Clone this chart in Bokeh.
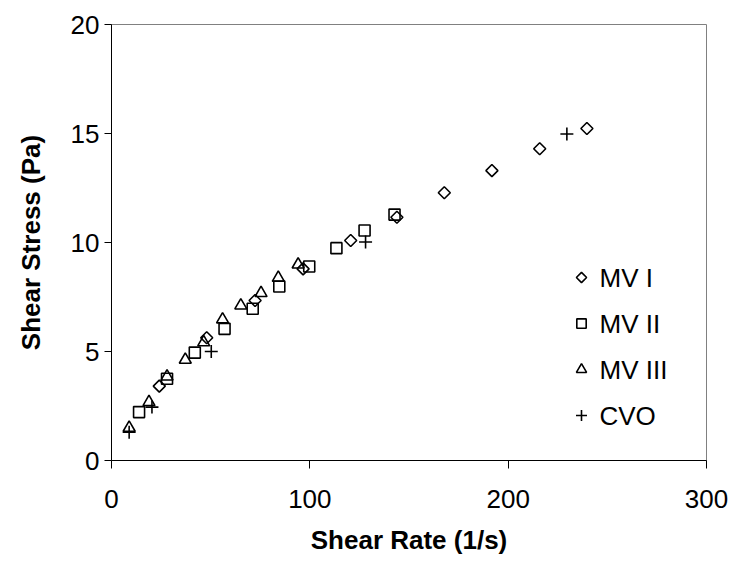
from bokeh.plotting import figure
from bokeh.models import Range1d, FixedTicker
from bokeh.core.properties import value
from bokeh.embed import file_html
from bokeh.resources import INLINE
import math

# Shear rate (1/s) and shear stress (Pa) for each sample
mv1_rate = [24.1, 48.0, 72.4, 96.6, 120.6, 143.9, 167.8, 191.8, 215.9, 239.7]
mv1_stress = [3.41, 5.63, 7.34, 8.79, 10.09, 11.16, 12.28, 13.30, 14.30, 15.23]

mv2_rate = [13.9, 28.0, 42.0, 57.0, 71.2, 84.6, 99.7, 113.4, 127.6, 142.7]
mv2_stress = [2.22, 3.75, 4.95, 6.04, 6.96, 7.98, 8.90, 9.74, 10.55, 11.28]

mv3_rate = [8.9, 18.9, 28.0, 37.2, 46.5, 56.0, 65.2, 75.4, 84.1, 94.1]
mv3_stress = [1.50, 2.68, 3.85, 4.62, 5.42, 6.47, 7.11, 7.68, 8.38, 8.99]

cvo_rate = [8.9, 20.4, 50.3, 128.1, 229.6]
cvo_stress = [1.30, 2.45, 5.00, 10.02, 14.98]

series_names = ["MV I", "MV II", "MV III", "CVO"]
x_ticks = [0, 100, 200, 300]
y_ticks = [0, 5, 10, 15, 20]

FONT = "Liberation Sans"
W, H = 730, 564
LEFT, RIGHT, TOP, BOTTOM = 111, 24, 24, 104
FRAME_W, FRAME_H = W - LEFT - RIGHT, H - TOP - BOTTOM

p = figure(width=W, height=H, output_backend="svg", toolbar_location=None,
           x_range=Range1d(0, 300), y_range=Range1d(0, 20),
           min_border_left=LEFT, min_border_right=RIGHT,
           min_border_top=TOP, min_border_bottom=BOTTOM)

# pixel-based ranges used only to place the key inside the frame
p.extra_x_ranges = {"px": Range1d(0, FRAME_W)}
p.extra_y_ranges = {"px": Range1d(0, FRAME_H)}

p.xgrid.visible = False
p.ygrid.visible = False
p.outline_line_color = "#808080"
p.outline_line_width = 1
p.background_fill_color = "white"
p.border_fill_color = "white"

for ax in (p.xaxis[0], p.yaxis[0]):
    ax.axis_line_color = "black"
    ax.major_tick_line_color = "black"
    ax.minor_tick_line_color = None
    ax.major_tick_in = 0
    ax.major_label_text_font = FONT
    ax.major_label_text_font_size = "26px"
    ax.major_label_text_color = "black"
    ax.axis_label_text_font = FONT
    ax.axis_label_text_font_size = "26px"
    ax.axis_label_text_font_style = "bold"
    ax.axis_label_text_color = "black"

p.xaxis.ticker = FixedTicker(ticks=x_ticks)
p.yaxis.ticker = FixedTicker(ticks=y_ticks)
p.xaxis.major_tick_out = 8
p.yaxis.major_tick_out = 7
p.xaxis.major_label_standoff = 21
p.yaxis.major_label_standoff = 5
p.xaxis.axis_label = "Shear Rate (1/s)"
p.yaxis.axis_label = "Shear Stress (Pa)"
p.xaxis.axis_label_standoff = 14
p.yaxis.axis_label_standoff = 22

style = dict(fill_color=None, line_color="black", line_width=1.6)
markers = [
    dict(marker="square", size=8.5, angle=math.pi / 4),
    dict(marker="square", size=11, angle=0),
    dict(marker="triangle", size=12, angle=0),
    dict(marker="cross", size=13, angle=0),
]
data = [(mv1_rate, mv1_stress), (mv2_rate, mv2_stress),
        (mv3_rate, mv3_stress), (cvo_rate, cvo_stress)]

for (xs, ys), m in zip(data, markers):
    p.scatter(xs, ys, **m, **style)

# key: one marker and one label per series, stacked in the lower right
key_x, key_text_x = 470, 488
key_top, key_step = 183, 46
for i, (name, m) in enumerate(zip(series_names, markers)):
    ky = key_top - key_step * i
    p.scatter([key_x], [ky], x_range_name="px", y_range_name="px",
              marker=m["marker"], size=m["size"] * 0.85, angle=m["angle"], **style)
    p.text([key_text_x], [ky], text=[name], x_range_name="px", y_range_name="px",
           text_font=value(FONT), text_font_size=value("26px"),
           text_baseline="middle", text_align="left", text_color="black")

open("out.html", "w").write(file_html(p, INLINE))
